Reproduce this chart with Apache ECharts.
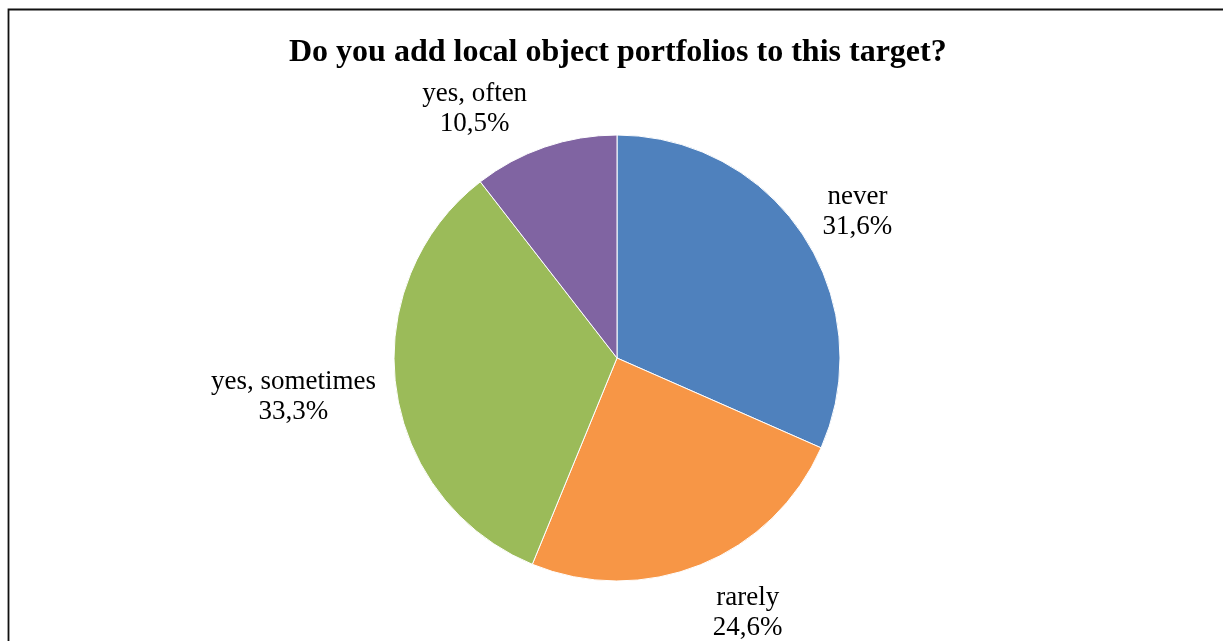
<!DOCTYPE html>
<html>
<head>
<meta charset="utf-8">
<script src="https://cdn.jsdelivr.net/npm/echarts@6/dist/echarts.min.js"></script>
<style>
html,body{margin:0;padding:0;background:#fff;}
#chart{width:1223px;height:641px;}
</style>
</head>
<body>
<div id="chart"></div>
<script>
const titleText = 'Do you add local object portfolios to this target?';
const categories = ['never', 'rarely', 'yes, sometimes', 'yes, often'];
const values = [31.6, 24.6, 33.3, 10.5];
const colors = ['#4F81BD', '#F79646', '#9BBB59', '#8064A2'];
const labelNudge = [[6, 3], [26, 1], [1, 2], [-46, 10]];

const CX = 617, CY = 358, R = 223, GAP = 22;
const total = values.reduce((a, b) => a + b, 0);

function fmtPct(v) { return v.toFixed(1).replace('.', ',') + '%'; }

const chart = echarts.init(document.getElementById('chart'));
chart.setOption({
  animation: false,
  backgroundColor: '#fff',
  title: {
    text: titleText,
    left: 289,
    top: 37,
    padding: 0,
    textStyle: { fontFamily: 'Liberation Serif', fontWeight: 'bold', fontSize: 32, color: '#000' }
  },
  graphic: [{
    type: 'rect',
    shape: { x: 8.5, y: 9.5, width: 1400, height: 800 },
    style: { fill: 'none', stroke: '#111', lineWidth: 1.8 },
    silent: true
  }],
  series: [{
    type: 'pie',
    center: [CX, CY],
    radius: R,
    startAngle: 90,
    clockwise: true,
    avoidLabelOverlap: false,
    itemStyle: { borderColor: '#fff', borderWidth: 1 },
    label: {
      show: true,
      position: 'outside',
      formatter: p => '{a|' + p.name + '}\n{a|' + fmtPct(p.value) + '}',
      rich: {
        a: { align: 'center', fontFamily: 'Liberation Serif', fontSize: 27, lineHeight: 30, color: '#000' }
      }
    },
    labelLine: { show: false },
    labelLayout: function (params) {
      const i = params.dataIndex;
      let start = 0;
      for (let k = 0; k < i; k++) start += values[k];
      const mid = (start + values[i] / 2) / total * Math.PI * 2;
      const sx = Math.sin(mid), sy = -Math.cos(mid);
      const w = params.labelRect.width, h = params.labelRect.height;
      const px = CX + (R + GAP) * sx + (w / 2) * sx + labelNudge[i][0];
      const py = CY + (R + GAP) * sy + (h / 2) * sy + labelNudge[i][1];
      return { x: px, y: py, align: 'center', verticalAlign: 'middle' };
    },
    data: categories.map((c, i) => ({ name: c, value: values[i], itemStyle: { color: colors[i] } }))
  }]
});
</script>
</body>
</html>
